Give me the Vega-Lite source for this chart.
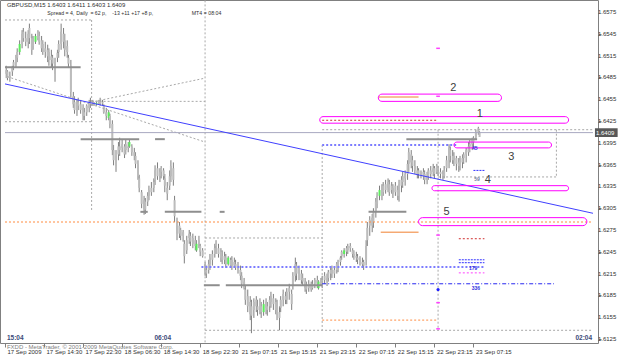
{
"$schema":"https://vega.github.io/schema/vega-lite/v6.json",
"width":598,"height":343,
"autosize":{"type":"none"},
"padding":{"left":0,"top":0,"right":27,"bottom":18},
"background":"white",
"config":{"font":"Liberation Sans","view":{"stroke":"#808080","strokeWidth":1}},
"datasets":{
"bars":[
{"i":1,"o":1.6490,"h":1.6501,"l":1.6484,"c":1.6495},{"i":2,"o":1.6493,"h":1.6495,"l":1.6481,"c":1.6484},{"i":4,"o":1.6484,"h":1.6493,"l":1.6479,"c":1.6487},{"i":6,"o":1.6493,"h":1.6501,"l":1.6487,"c":1.6498},{"i":7,"o":1.6501,"h":1.6509,"l":1.6495,"c":1.6506},{"i":9,"o":1.6504,"h":1.6516,"l":1.6498,"c":1.6512},{"i":10,"o":1.6512,"h":1.6525,"l":1.6506,"c":1.6520},{"i":12,"o":1.6520,"h":1.6536,"l":1.6516,"c":1.6531,"s":1},{"i":14,"o":1.6531,"h":1.6550,"l":1.6525,"c":1.6545},{"i":15,"o":1.6548,"h":1.6553,"l":1.6534,"c":1.6539},{"i":17,"o":1.6539,"h":1.6548,"l":1.6528,"c":1.6534},{"i":19,"o":1.6534,"h":1.6550,"l":1.6525,"c":1.6545},{"i":20,"o":1.6539,"h":1.6559,"l":1.6531,"c":1.6553},{"i":22,"o":1.6539,"h":1.6545,"l":1.6516,"c":1.6523},{"i":23,"o":1.6528,"h":1.6542,"l":1.6523,"c":1.6536},{"i":25,"o":1.6534,"h":1.6545,"l":1.6531,"c":1.6542,"s":1},{"i":27,"o":1.6539,"h":1.6550,"l":1.6536,"c":1.6548},{"i":28,"o":1.6542,"h":1.6548,"l":1.6530,"c":1.6534},{"i":30,"o":1.6536,"h":1.6542,"l":1.6520,"c":1.6525},{"i":31,"o":1.6531,"h":1.6536,"l":1.6516,"c":1.6520},{"i":33,"o":1.6525,"h":1.6534,"l":1.6512,"c":1.6520},{"i":35,"o":1.6523,"h":1.6530,"l":1.6506,"c":1.6514},{"i":36,"o":1.6520,"h":1.6525,"l":1.6501,"c":1.6509},{"i":38,"o":1.6509,"h":1.6523,"l":1.6498,"c":1.6514},{"i":39,"o":1.6512,"h":1.6516,"l":1.6495,"c":1.6504},{"i":41,"o":1.6506,"h":1.6512,"l":1.6479,"c":1.6490},{"i":43,"o":1.6512,"h":1.6523,"l":1.6506,"c":1.6519},{"i":44,"o":1.6520,"h":1.6536,"l":1.6512,"c":1.6531},{"i":46,"o":1.6531,"h":1.6559,"l":1.6523,"c":1.6548},{"i":48,"o":1.6545,"h":1.6553,"l":1.6525,"c":1.6534},{"i":49,"o":1.6536,"h":1.6545,"l":1.6514,"c":1.6523},{"i":51,"o":1.6528,"h":1.6536,"l":1.6512,"c":1.6520},{"i":52,"o":1.6512,"h":1.6516,"l":1.6498,"c":1.6504},{"i":54,"o":1.6501,"h":1.6509,"l":1.6457,"c":1.6465},{"i":56,"o":1.6459,"h":1.6465,"l":1.6443,"c":1.6448},{"i":57,"o":1.6451,"h":1.6459,"l":1.6435,"c":1.6440},{"i":59,"o":1.6437,"h":1.6454,"l":1.6432,"c":1.6448},{"i":60,"o":1.6451,"h":1.6457,"l":1.6440,"c":1.6446},{"i":62,"o":1.6448,"h":1.6454,"l":1.6435,"c":1.6440},{"i":64,"o":1.6443,"h":1.6448,"l":1.6426,"c":1.6432},{"i":65,"o":1.6432,"h":1.6443,"l":1.6426,"c":1.6437},{"i":67,"o":1.6437,"h":1.6448,"l":1.6432,"c":1.6446},{"i":69,"o":1.6443,"h":1.6454,"l":1.6437,"c":1.6451},{"i":70,"o":1.6451,"h":1.6457,"l":1.6443,"c":1.6448},{"i":72,"o":1.6451,"h":1.6454,"l":1.6446,"c":1.6448},{"i":73,"o":1.6448,"h":1.6451,"l":1.6446,"c":1.6450},{"i":75,"o":1.6448,"h":1.6451,"l":1.6446,"c":1.6450,"s":1},{"i":77,"o":1.6450,"h":1.6454,"l":1.6448,"c":1.6452},{"i":78,"o":1.6452,"h":1.6457,"l":1.6446,"c":1.6449},{"i":80,"o":1.6449,"h":1.6454,"l":1.6446,"c":1.6451},{"i":81,"o":1.6446,"h":1.6448,"l":1.6435,"c":1.6437},{"i":83,"o":1.6437,"h":1.6443,"l":1.6426,"c":1.6432},{"i":85,"o":1.6429,"h":1.6440,"l":1.6426,"c":1.6437,"s":1},{"i":86,"o":1.6432,"h":1.6435,"l":1.6415,"c":1.6421},{"i":88,"o":1.6421,"h":1.6426,"l":1.6378,"c":1.6385},{"i":89,"o":1.6385,"h":1.6392,"l":1.6364,"c":1.6371},{"i":91,"o":1.6363,"h":1.6385,"l":1.6355,"c":1.6377},{"i":93,"o":1.6379,"h":1.6396,"l":1.6371,"c":1.6390},{"i":94,"o":1.6390,"h":1.6402,"l":1.6377,"c":1.6385},{"i":96,"o":1.6388,"h":1.6399,"l":1.6382,"c":1.6393},{"i":98,"o":1.6390,"h":1.6393,"l":1.6374,"c":1.6379},{"i":99,"o":1.6385,"h":1.6399,"l":1.6379,"c":1.6393},{"i":101,"o":1.6388,"h":1.6396,"l":1.6382,"c":1.6390},{"i":102,"o":1.6390,"h":1.6399,"l":1.6388,"c":1.6396,"s":1},{"i":104,"o":1.6390,"h":1.6393,"l":1.6377,"c":1.6382},{"i":106,"o":1.6382,"h":1.6388,"l":1.6371,"c":1.6377},{"i":107,"o":1.6377,"h":1.6382,"l":1.6360,"c":1.6366},{"i":109,"o":1.6366,"h":1.6371,"l":1.6344,"c":1.6349},{"i":110,"o":1.6346,"h":1.6351,"l":1.6327,"c":1.6333},{"i":112,"o":1.6327,"h":1.6330,"l":1.6305,"c":1.6311},{"i":114,"o":1.6303,"h":1.6322,"l":1.6296,"c":1.6316},{"i":115,"o":1.6314,"h":1.6319,"l":1.6297,"c":1.6303},{"i":117,"o":1.6314,"h":1.6327,"l":1.6308,"c":1.6322},{"i":118,"o":1.6322,"h":1.6336,"l":1.6316,"c":1.6330},{"i":120,"o":1.6333,"h":1.6341,"l":1.6322,"c":1.6327},{"i":122,"o":1.6333,"h":1.6346,"l":1.6327,"c":1.6341},{"i":123,"o":1.6344,"h":1.6364,"l":1.6337,"c":1.6357},{"i":125,"o":1.6360,"h":1.6368,"l":1.6344,"c":1.6349},{"i":127,"o":1.6349,"h":1.6360,"l":1.6341,"c":1.6355},{"i":128,"o":1.6355,"h":1.6363,"l":1.6346,"c":1.6360},{"i":130,"o":1.6357,"h":1.6360,"l":1.6344,"c":1.6349},{"i":131,"o":1.6346,"h":1.6352,"l":1.6327,"c":1.6336},{"i":133,"o":1.6333,"h":1.6341,"l":1.6316,"c":1.6325},{"i":135,"o":1.6336,"h":1.6357,"l":1.6330,"c":1.6349},{"i":136,"o":1.6349,"h":1.6371,"l":1.6341,"c":1.6363},{"i":138,"o":1.6360,"h":1.6368,"l":1.6336,"c":1.6344},{"i":139,"o":1.6316,"h":1.6322,"l":1.6286,"c":1.6294},{"i":141,"o":1.6286,"h":1.6292,"l":1.6261,"c":1.6270},{"i":143,"o":1.6270,"h":1.6286,"l":1.6264,"c":1.6281},{"i":144,"o":1.6275,"h":1.6278,"l":1.6261,"c":1.6267},{"i":146,"o":1.6267,"h":1.6275,"l":1.6259,"c":1.6272},{"i":147,"o":1.6256,"h":1.6261,"l":1.6229,"c":1.6239},{"i":149,"o":1.6247,"h":1.6267,"l":1.6242,"c":1.6261},{"i":151,"o":1.6264,"h":1.6275,"l":1.6256,"c":1.6270},{"i":152,"o":1.6267,"h":1.6272,"l":1.6253,"c":1.6259},{"i":154,"o":1.6256,"h":1.6270,"l":1.6250,"c":1.6264},{"i":156,"o":1.6261,"h":1.6267,"l":1.6247,"c":1.6253},{"i":157,"o":1.6247,"h":1.6261,"l":1.6245,"c":1.6256,"s":1},{"i":159,"o":1.6256,"h":1.6267,"l":1.6250,"c":1.6261},{"i":160,"o":1.6253,"h":1.6256,"l":1.6239,"c":1.6245},{"i":162,"o":1.6247,"h":1.6250,"l":1.6237,"c":1.6239},{"i":164,"o":1.6228,"h":1.6231,"l":1.6212,"c":1.6217},{"i":165,"o":1.6215,"h":1.6226,"l":1.6209,"c":1.6220},{"i":167,"o":1.6220,"h":1.6234,"l":1.6215,"c":1.6228},{"i":168,"o":1.6228,"h":1.6242,"l":1.6220,"c":1.6237},{"i":170,"o":1.6234,"h":1.6247,"l":1.6226,"c":1.6242},{"i":172,"o":1.6242,"h":1.6256,"l":1.6237,"c":1.6250},{"i":173,"o":1.6253,"h":1.6261,"l":1.6242,"c":1.6256},{"i":175,"o":1.6250,"h":1.6256,"l":1.6237,"c":1.6242},{"i":177,"o":1.6245,"h":1.6250,"l":1.6231,"c":1.6237},{"i":178,"o":1.6239,"h":1.6247,"l":1.6228,"c":1.6234},{"i":180,"o":1.6234,"h":1.6245,"l":1.6228,"c":1.6239},{"i":181,"o":1.6237,"h":1.6242,"l":1.6223,"c":1.6228},{"i":183,"o":1.6228,"h":1.6239,"l":1.6226,"c":1.6237,"s":1},{"i":185,"o":1.6234,"h":1.6237,"l":1.6223,"c":1.6226},{"i":186,"o":1.6226,"h":1.6239,"l":1.6220,"c":1.6234},{"i":188,"o":1.6231,"h":1.6237,"l":1.6223,"c":1.6226},{"i":189,"o":1.6228,"h":1.6234,"l":1.6220,"c":1.6223},{"i":191,"o":1.6226,"h":1.6231,"l":1.6215,"c":1.6220},{"i":193,"o":1.6220,"h":1.6226,"l":1.6206,"c":1.6212},{"i":194,"o":1.6212,"h":1.6217,"l":1.6195,"c":1.6201},{"i":196,"o":1.6204,"h":1.6209,"l":1.6193,"c":1.6195},{"i":197,"o":1.6193,"h":1.6199,"l":1.6172,"c":1.6179},{"i":199,"o":1.6184,"h":1.6193,"l":1.6162,"c":1.6170},{"i":201,"o":1.6176,"h":1.6184,"l":1.6151,"c":1.6159},{"i":202,"o":1.6157,"h":1.6179,"l":1.6133,"c":1.6170},{"i":204,"o":1.6165,"h":1.6181,"l":1.6154,"c":1.6176},{"i":206,"o":1.6179,"h":1.6184,"l":1.6162,"c":1.6170},{"i":207,"o":1.6170,"h":1.6179,"l":1.6157,"c":1.6165},{"i":209,"o":1.6165,"h":1.6181,"l":1.6159,"c":1.6176},{"i":210,"o":1.6170,"h":1.6176,"l":1.6154,"c":1.6162},{"i":212,"o":1.6162,"h":1.6179,"l":1.6157,"c":1.6173,"s":1},{"i":214,"o":1.6176,"h":1.6181,"l":1.6159,"c":1.6168},{"i":215,"o":1.6165,"h":1.6176,"l":1.6157,"c":1.6170},{"i":217,"o":1.6170,"h":1.6184,"l":1.6162,"c":1.6179},{"i":218,"o":1.6176,"h":1.6190,"l":1.6168,"c":1.6184},{"i":220,"o":1.6181,"h":1.6187,"l":1.6165,"c":1.6173},{"i":222,"o":1.6176,"h":1.6181,"l":1.6159,"c":1.6165},{"i":223,"o":1.6170,"h":1.6179,"l":1.6151,"c":1.6159},{"i":225,"o":1.6162,"h":1.6170,"l":1.6137,"c":1.6154},{"i":226,"o":1.6168,"h":1.6184,"l":1.6162,"c":1.6179},{"i":228,"o":1.6179,"h":1.6193,"l":1.6170,"c":1.6187},{"i":230,"o":1.6184,"h":1.6190,"l":1.6173,"c":1.6179},{"i":231,"o":1.6179,"h":1.6195,"l":1.6173,"c":1.6190},{"i":233,"o":1.6190,"h":1.6201,"l":1.6179,"c":1.6195},{"i":235,"o":1.6187,"h":1.6193,"l":1.6165,"c":1.6173},{"i":236,"o":1.6198,"h":1.6217,"l":1.6193,"c":1.6212},{"i":238,"o":1.6212,"h":1.6237,"l":1.6204,"c":1.6228},{"i":239,"o":1.6226,"h":1.6231,"l":1.6206,"c":1.6215},{"i":241,"o":1.6215,"h":1.6226,"l":1.6206,"c":1.6220},{"i":243,"o":1.6215,"h":1.6220,"l":1.6201,"c":1.6206},{"i":244,"o":1.6209,"h":1.6215,"l":1.6198,"c":1.6204},{"i":246,"o":1.6204,"h":1.6209,"l":1.6190,"c":1.6195},{"i":247,"o":1.6193,"h":1.6204,"l":1.6187,"c":1.6198},{"i":249,"o":1.6195,"h":1.6206,"l":1.6190,"c":1.6201},{"i":251,"o":1.6201,"h":1.6204,"l":1.6190,"c":1.6193},{"i":252,"o":1.6195,"h":1.6206,"l":1.6193,"c":1.6201},{"i":254,"o":1.6201,"h":1.6209,"l":1.6195,"c":1.6206},{"i":256,"o":1.6206,"h":1.6212,"l":1.6195,"c":1.6201},{"i":257,"o":1.6195,"h":1.6206,"l":1.6193,"c":1.6204,"s":1},{"i":259,"o":1.6201,"h":1.6209,"l":1.6198,"c":1.6206},{"i":260,"o":1.6206,"h":1.6212,"l":1.6195,"c":1.6201},{"i":262,"o":1.6206,"h":1.6217,"l":1.6201,"c":1.6212},{"i":264,"o":1.6209,"h":1.6215,"l":1.6198,"c":1.6204},{"i":265,"o":1.6209,"h":1.6220,"l":1.6204,"c":1.6217},{"i":267,"o":1.6215,"h":1.6223,"l":1.6206,"c":1.6220},{"i":268,"o":1.6220,"h":1.6226,"l":1.6209,"c":1.6215},{"i":270,"o":1.6215,"h":1.6223,"l":1.6209,"c":1.6220},{"i":272,"o":1.6220,"h":1.6231,"l":1.6215,"c":1.6228},{"i":273,"o":1.6226,"h":1.6234,"l":1.6217,"c":1.6231},{"i":275,"o":1.6231,"h":1.6239,"l":1.6226,"c":1.6237},{"i":276,"o":1.6239,"h":1.6247,"l":1.6234,"c":1.6245},{"i":278,"o":1.6242,"h":1.6250,"l":1.6237,"c":1.6247,"s":1},{"i":280,"o":1.6245,"h":1.6253,"l":1.6239,"c":1.6250},{"i":281,"o":1.6247,"h":1.6256,"l":1.6242,"c":1.6253},{"i":283,"o":1.6250,"h":1.6257,"l":1.6245,"c":1.6253},{"i":285,"o":1.6247,"h":1.6250,"l":1.6237,"c":1.6242},{"i":286,"o":1.6242,"h":1.6247,"l":1.6234,"c":1.6239},{"i":288,"o":1.6239,"h":1.6245,"l":1.6231,"c":1.6237},{"i":289,"o":1.6237,"h":1.6242,"l":1.6228,"c":1.6234},{"i":291,"o":1.6234,"h":1.6239,"l":1.6226,"c":1.6231},{"i":293,"o":1.6231,"h":1.6237,"l":1.6223,"c":1.6228},{"i":294,"o":1.6226,"h":1.6234,"l":1.6220,"c":1.6231},{"i":296,"o":1.6234,"h":1.6261,"l":1.6226,"c":1.6253},{"i":297,"o":1.6261,"h":1.6286,"l":1.6253,"c":1.6278},{"i":299,"o":1.6281,"h":1.6294,"l":1.6267,"c":1.6289},{"i":301,"o":1.6281,"h":1.6297,"l":1.6272,"c":1.6292},{"i":302,"o":1.6286,"h":1.6305,"l":1.6278,"c":1.6300},{"i":304,"o":1.6300,"h":1.6319,"l":1.6292,"c":1.6314},{"i":305,"o":1.6311,"h":1.6327,"l":1.6305,"c":1.6322},{"i":307,"o":1.6322,"h":1.6336,"l":1.6316,"c":1.6330,"s":1},{"i":309,"o":1.6330,"h":1.6338,"l":1.6316,"c":1.6322},{"i":310,"o":1.6327,"h":1.6341,"l":1.6322,"c":1.6336},{"i":312,"o":1.6338,"h":1.6344,"l":1.6325,"c":1.6330},{"i":314,"o":1.6333,"h":1.6346,"l":1.6327,"c":1.6341},{"i":315,"o":1.6338,"h":1.6344,"l":1.6322,"c":1.6327},{"i":317,"o":1.6330,"h":1.6341,"l":1.6325,"c":1.6336},{"i":318,"o":1.6333,"h":1.6338,"l":1.6319,"c":1.6325},{"i":320,"o":1.6327,"h":1.6341,"l":1.6322,"c":1.6336},{"i":322,"o":1.6330,"h":1.6336,"l":1.6316,"c":1.6322},{"i":323,"o":1.6322,"h":1.6344,"l":1.6314,"c":1.6338},{"i":325,"o":1.6336,"h":1.6349,"l":1.6327,"c":1.6344},{"i":326,"o":1.6341,"h":1.6355,"l":1.6333,"c":1.6349},{"i":328,"o":1.6346,"h":1.6357,"l":1.6336,"c":1.6352},{"i":330,"o":1.6352,"h":1.6371,"l":1.6344,"c":1.6366},{"i":331,"o":1.6366,"h":1.6388,"l":1.6355,"c":1.6382},{"i":333,"o":1.6379,"h":1.6385,"l":1.6360,"c":1.6368},{"i":334,"o":1.6371,"h":1.6377,"l":1.6355,"c":1.6363},{"i":336,"o":1.6363,"h":1.6371,"l":1.6352,"c":1.6357},{"i":338,"o":1.6357,"h":1.6363,"l":1.6346,"c":1.6352},{"i":339,"o":1.6352,"h":1.6360,"l":1.6346,"c":1.6357},{"i":341,"o":1.6355,"h":1.6357,"l":1.6346,"c":1.6349},{"i":343,"o":1.6349,"h":1.6360,"l":1.6344,"c":1.6355},{"i":344,"o":1.6352,"h":1.6357,"l":1.6338,"c":1.6344},{"i":346,"o":1.6344,"h":1.6355,"l":1.6338,"c":1.6349},{"i":347,"o":1.6349,"h":1.6360,"l":1.6344,"c":1.6357},{"i":349,"o":1.6357,"h":1.6363,"l":1.6346,"c":1.6352},{"i":351,"o":1.6355,"h":1.6366,"l":1.6349,"c":1.6360},{"i":352,"o":1.6360,"h":1.6363,"l":1.6346,"c":1.6352},{"i":354,"o":1.6355,"h":1.6366,"l":1.6352,"c":1.6363},{"i":355,"o":1.6360,"h":1.6363,"l":1.6349,"c":1.6355},{"i":357,"o":1.6355,"h":1.6360,"l":1.6346,"c":1.6352},{"i":359,"o":1.6352,"h":1.6357,"l":1.6344,"c":1.6349},{"i":360,"o":1.6349,"h":1.6363,"l":1.6346,"c":1.6357},{"i":362,"o":1.6360,"h":1.6377,"l":1.6355,"c":1.6371},{"i":364,"o":1.6371,"h":1.6393,"l":1.6360,"c":1.6388},{"i":365,"o":1.6385,"h":1.6390,"l":1.6368,"c":1.6377},{"i":367,"o":1.6377,"h":1.6385,"l":1.6366,"c":1.6371},{"i":368,"o":1.6371,"h":1.6382,"l":1.6363,"c":1.6377},{"i":370,"o":1.6374,"h":1.6377,"l":1.6357,"c":1.6366},{"i":372,"o":1.6363,"h":1.6374,"l":1.6355,"c":1.6368},{"i":373,"o":1.6366,"h":1.6377,"l":1.6357,"c":1.6371},{"i":375,"o":1.6368,"h":1.6379,"l":1.6360,"c":1.6374},{"i":376,"o":1.6374,"h":1.6382,"l":1.6366,"c":1.6379},{"i":378,"o":1.6379,"h":1.6388,"l":1.6368,"c":1.6385},{"i":380,"o":1.6382,"h":1.6396,"l":1.6377,"c":1.6390},{"i":381,"o":1.6390,"h":1.6399,"l":1.6382,"c":1.6393},{"i":383,"o":1.6393,"h":1.6402,"l":1.6385,"c":1.6399},{"i":384,"o":1.6396,"h":1.6404,"l":1.6388,"c":1.6402},{"i":386,"o":1.6402,"h":1.6413,"l":1.6399,"c":1.6410},{"i":388,"o":1.6410,"h":1.6417,"l":1.6406,"c":1.6415},{"i":389,"o":1.6403,"h":1.6411,"l":1.6403,"c":1.6409}
],
"segs":[
{"x1":0,"x2":71,"y1":1.6564,"y2":1.6564,"k":"guide"},
{"x1":0,"x2":71,"y1":1.6424,"y2":1.6424,"k":"guide"},
{"x1":71,"x2":164,"y1":1.6452,"y2":1.6452,"k":"guide"},
{"x1":164,"x2":260,"y1":1.6264,"y2":1.6264,"k":"guide"},
{"x1":164,"x2":482,"y1":1.6137,"y2":1.6137,"k":"guide"},
{"x1":260,"x2":482,"y1":1.6413,"y2":1.6413,"k":"guide"},
{"x1":355,"x2":452,"y1":1.6348,"y2":1.6348,"k":"guide"},
{"x1":452,"x2":452,"y1":1.6413,"y2":1.6348,"k":"guide"},
{"x1":71,"x2":71,"y1":1.6564,"y2":1.6300,"k":"guide"},
{"x1":164,"x2":164,"y1":1.6591,"y2":1.6120,"k":"guide"},
{"x1":260,"x2":260,"y1":1.6392,"y2":1.6137,"k":"guide"},
{"x1":355,"x2":355,"y1":1.6413,"y2":1.6137,"k":"guide"},
{"x1":2,"x2":164,"y1":1.6486,"y2":1.6396,"k":"guide"},
{"x1":71,"x2":164,"y1":1.6451,"y2":1.6484,"k":"guide"},
{"x1":0,"x2":482,"y1":1.6409,"y2":1.6409,"k":"bid"},
{"x1":0,"x2":482,"y1":1.6476,"y2":1.6298,"k":"trend"},
{"x1":260,"x2":450,"y1":1.6201,"y2":1.6201,"k":"bluedash"},
{"x1":372,"x2":393,"y1":1.6234,"y2":1.6234,"k":"bluesmall"},
{"x1":372,"x2":393,"y1":1.6230,"y2":1.6230,"k":"bluesmall"},
{"x1":384,"x2":393,"y1":1.6357,"y2":1.6357,"k":"bluesmall"},
{"x1":0,"x2":482,"y1":1.6286,"y2":1.6286,"k":"orangedot"},
{"x1":260,"x2":355,"y1":1.6151,"y2":1.6151,"k":"orangedot"},
{"x1":308,"x2":339,"y1":1.6272,"y2":1.6272,"k":"orange"},
{"x1":306,"x2":339,"y1":1.6458,"y2":1.6458,"k":"orange"},
{"x1":260,"x2":355,"y1":1.6426,"y2":1.6426,"k":"reddot"},
{"x1":372,"x2":393,"y1":1.6263,"y2":1.6263,"k":"reddot"},
{"x1":372,"x2":393,"y1":1.6216,"y2":1.6216,"k":"pinkdot"},
{"x1":353.5,"x2":356.5,"y1":1.6525,"y2":1.6525,"k":"pink"},
{"x1":353.5,"x2":356.5,"y1":1.6459,"y2":1.6459,"k":"pink"},
{"x1":353.5,"x2":356.5,"y1":1.6268,"y2":1.6268,"k":"pink"},
{"x1":353.5,"x2":356.5,"y1":1.6175,"y2":1.6175,"k":"pink"},
{"x1":353.5,"x2":356.5,"y1":1.6139,"y2":1.6139,"k":"pink"},
{"x1":0,"x2":62,"y1":1.6499,"y2":1.6499,"k":"level"},
{"x1":62,"x2":110,"y1":1.6400,"y2":1.6400,"k":"level"},
{"x1":123,"x2":131,"y1":1.6400,"y2":1.6400,"k":"level"},
{"x1":111,"x2":117,"y1":1.6300,"y2":1.6300,"k":"level"},
{"x1":131,"x2":161,"y1":1.6300,"y2":1.6300,"k":"level"},
{"x1":176,"x2":180,"y1":1.6300,"y2":1.6300,"k":"level"},
{"x1":163,"x2":176,"y1":1.6199,"y2":1.6199,"k":"level"},
{"x1":181,"x2":260,"y1":1.6199,"y2":1.6199,"k":"level"},
{"x1":298,"x2":329,"y1":1.6300,"y2":1.6300,"k":"level"},
{"x1":329,"x2":387,"y1":1.6400,"y2":1.6400,"k":"level"},
{"x1":260,"x2":371,"y1":1.6392,"y2":1.6392,"k":"bluedot"},
{"x1":161,"x2":393,"y1":1.6224,"y2":1.6224,"k":"bluedot"}
],
"boxes":[
{"x1":258,"x2":462,"y1":1.6431,"y2":1.6422},
{"x1":306,"x2":407,"y1":1.6462,"y2":1.6452},
{"x1":368,"x2":448,"y1":1.6396,"y2":1.6388},
{"x1":350,"x2":462,"y1":1.6336,"y2":1.6329},
{"x1":339,"x2":477,"y1":1.6292,"y2":1.6281}
],
"yt":[{"v":1.6125},{"v":1.6155},{"v":1.6185},{"v":1.6215},{"v":1.6245},{"v":1.6275},{"v":1.6305},{"v":1.6335},{"v":1.6365},{"v":1.6395},{"v":1.6425},{"v":1.6455},{"v":1.6485},{"v":1.6515},{"v":1.6545},{"v":1.6575}],
"notes":[
{"x":1.6,"y":1.6585,"t":"GBPUSD,M15  1.6403 1.6411 1.6403 1.6409","k":"h"},
{"x":34.7,"y":1.6574,"t":"Spread = 4,","k":"h2"},
{"x":58.5,"y":1.6574,"t":"Daily","k":"h2"},
{"x":70,"y":1.6574,"t":"= 62 p,","k":"h2"},
{"x":88,"y":1.6574,"t":"-13 +11 +17 +8 p,","k":"h2"},
{"x":153.1,"y":1.6574,"t":"MT4","k":"h2"},
{"x":163,"y":1.6574,"t":"= 08:04","k":"h2"},
{"x":389.3,"y":1.6435,"t":"1","k":"n"},
{"x":367.5,"y":1.6470,"t":"2","k":"n"},
{"x":415,"y":1.6375,"t":"3","k":"n"},
{"x":395.7,"y":1.6344,"t":"4","k":"n"},
{"x":361.9,"y":1.6300,"t":"5","k":"n"},
{"x":383.7,"y":1.6223,"t":"179","k":"b"},
{"x":386,"y":1.6195,"t":"336","k":"b"},
{"x":385,"y":1.6388,"t":"45","k":"b"},
{"x":387,"y":1.6345,"t":"59","k":"g"},
{"x":1.6,"y":1.6126,"t":"15:04","k":"t"},
{"x":122.5,"y":1.6126,"t":"06:04","k":"t"},
{"x":481.2,"y":1.6126,"t":"02:04","k":"tr"},
{"x":1.6,"y":1.6114,"t":"FXDD - MetaTrader, © 2001-2009 MetaQuotes Software Corp.","k":"c"}
],
"price":[{"x1":483.6,"x2":502.2,"y1":1.6415,"y2":1.6403,"p":1.6409,"t":"1.6409"}],
"dot":[{"x":355,"y":1.6193}]
},
"layer":[
{"data":{"name":"bars"},"mark":{"type":"rule","color":"#7e7e7e","strokeWidth":1},
 "encoding":{
  "x":{"field":"i","type":"quantitative","scale":{"domain":[0,482],"nice":false,"zero":false},
   "axis":{"title":null,"orient":"bottom","values":[0,32,64,96,128,160,192,224,256,288,320,352,384],
    "labelExpr":"['17 Sep 2009','17 Sep 14:30','17 Sep 22:30','18 Sep 06:30','18 Sep 14:30','18 Sep 22:30','21 Sep 07:15','21 Sep 15:15','21 Sep 23:15','22 Sep 07:15','22 Sep 15:15','22 Sep 23:15','23 Sep 07:15'][round(datum.value/32)]",
    "domain":false,"grid":false,"tickSize":4,"tickColor":"#808080","labelAlign":"left","labelOffset":2,"labelPadding":1,"labelFontSize":6,"labelColor":"#303030","labelOverlap":false,"labelFlush":false}},
  "y":{"field":"l","type":"quantitative","scale":{"domain":[1.61195,1.65915],"nice":false,"zero":false},
   "axis":{"title":null,"orient":"right","values":[1.6125,1.6155,1.6185,1.6215,1.6245,1.6275,1.6305,1.6335,1.6365,1.6395,1.6425,1.6455,1.6485,1.6515,1.6545,1.6575],
    "labels":false,"domain":false,"grid":false,"tickSize":3,"tickColor":"#808080"}},
  "y2":{"field":"h"}}},
{"data":{"name":"bars"},"mark":{"type":"bar","width":2},
 "encoding":{"x":{"field":"i","type":"quantitative"},"y":{"field":"o","type":"quantitative"},"y2":{"field":"c"},
  "color":{"condition":{"test":"datum.s == 1","value":"#5aee5a"},"value":"#bcbcbc"}}},
{"data":{"name":"segs"},"transform":[{"filter":"datum.k == 'guide'"}],"mark":{"type":"rule","strokeWidth":1,"color":"#a8a8a8","strokeDash":[2,2]},
 "encoding":{"x":{"field":"x1","type":"quantitative"},"x2":{"field":"x2"},"y":{"field":"y1","type":"quantitative"},"y2":{"field":"y2"}}},
{"data":{"name":"segs"},"transform":[{"filter":"datum.k == 'level'"}],"mark":{"type":"rule","strokeWidth":2,"color":"#8e8e8e"},
 "encoding":{"x":{"field":"x1","type":"quantitative"},"x2":{"field":"x2"},"y":{"field":"y1","type":"quantitative"},"y2":{"field":"y2"}}},
{"data":{"name":"segs"},"transform":[{"filter":"datum.k == 'bid'"}],"mark":{"type":"rule","strokeWidth":1,"color":"#a8a8c0"},
 "encoding":{"x":{"field":"x1","type":"quantitative"},"x2":{"field":"x2"},"y":{"field":"y1","type":"quantitative"},"y2":{"field":"y2"}}},
{"data":{"name":"segs"},"transform":[{"filter":"datum.k == 'trend'"}],"mark":{"type":"rule","strokeWidth":1,"color":"#4040ff"},
 "encoding":{"x":{"field":"x1","type":"quantitative"},"x2":{"field":"x2"},"y":{"field":"y1","type":"quantitative"},"y2":{"field":"y2"}}},
{"data":{"name":"segs"},"transform":[{"filter":"datum.k == 'bluedot'"}],"mark":{"type":"rule","strokeWidth":2,"color":"#7c7cff","strokeDash":[2,2]},
 "encoding":{"x":{"field":"x1","type":"quantitative"},"x2":{"field":"x2"},"y":{"field":"y1","type":"quantitative"},"y2":{"field":"y2"}}},
{"data":{"name":"segs"},"transform":[{"filter":"datum.k == 'bluedash'"}],"mark":{"type":"rule","strokeWidth":1,"color":"#2828f0","strokeDash":[4,2,1,2]},
 "encoding":{"x":{"field":"x1","type":"quantitative"},"x2":{"field":"x2"},"y":{"field":"y1","type":"quantitative"},"y2":{"field":"y2"}}},
{"data":{"name":"segs"},"transform":[{"filter":"datum.k == 'bluesmall'"}],"mark":{"type":"rule","strokeWidth":1,"color":"#3030ff","strokeDash":[2,1]},
 "encoding":{"x":{"field":"x1","type":"quantitative"},"x2":{"field":"x2"},"y":{"field":"y1","type":"quantitative"},"y2":{"field":"y2"}}},
{"data":{"name":"segs"},"transform":[{"filter":"datum.k == 'orangedot'"}],"mark":{"type":"rule","strokeWidth":1,"color":"#ff8c40","strokeDash":[2,2]},
 "encoding":{"x":{"field":"x1","type":"quantitative"},"x2":{"field":"x2"},"y":{"field":"y1","type":"quantitative"},"y2":{"field":"y2"}}},
{"data":{"name":"segs"},"transform":[{"filter":"datum.k == 'orange'"}],"mark":{"type":"rule","strokeWidth":1,"color":"#f08030"},
 "encoding":{"x":{"field":"x1","type":"quantitative"},"x2":{"field":"x2"},"y":{"field":"y1","type":"quantitative"},"y2":{"field":"y2"}}},
{"data":{"name":"segs"},"transform":[{"filter":"datum.k == 'reddot'"}],"mark":{"type":"rule","strokeWidth":1,"color":"#d03030","strokeDash":[2,2]},
 "encoding":{"x":{"field":"x1","type":"quantitative"},"x2":{"field":"x2"},"y":{"field":"y1","type":"quantitative"},"y2":{"field":"y2"}}},
{"data":{"name":"segs"},"transform":[{"filter":"datum.k == 'pinkdot'"}],"mark":{"type":"rule","strokeWidth":1,"color":"#ff40ff","strokeDash":[2,2]},
 "encoding":{"x":{"field":"x1","type":"quantitative"},"x2":{"field":"x2"},"y":{"field":"y1","type":"quantitative"},"y2":{"field":"y2"}}},
{"data":{"name":"segs"},"transform":[{"filter":"datum.k == 'pink'"}],"mark":{"type":"rule","strokeWidth":1.5,"color":"#ff40ff"},
 "encoding":{"x":{"field":"x1","type":"quantitative"},"x2":{"field":"x2"},"y":{"field":"y1","type":"quantitative"},"y2":{"field":"y2"}}},
{"data":{"name":"boxes"},"mark":{"type":"rect","fill":"white","fillOpacity":0,"stroke":"#ff00ff","strokeWidth":1,"cornerRadius":4},
 "encoding":{"x":{"field":"x1","type":"quantitative"},"x2":{"field":"x2"},"y":{"field":"y1","type":"quantitative"},"y2":{"field":"y2"}}},
{"data":{"name":"dot"},"mark":{"type":"point","filled":true,"color":"#2020ff","size":10,"opacity":1},
 "encoding":{"x":{"field":"x","type":"quantitative"},"y":{"field":"y","type":"quantitative"}}},
{"data":{"name":"yt"},"mark":{"type":"text","align":"left","baseline":"middle","fontSize":6,"color":"#303030"},
 "encoding":{"x":{"datum":486},"y":{"field":"v","type":"quantitative"},"text":{"field":"v","type":"quantitative","format":".4f"}}},
{"data":{"name":"notes"},"transform":[{"filter":"datum.k == 'h'"}],"mark":{"type":"text","align":"left","baseline":"middle","fontSize":6,"color":"#303030"},
 "encoding":{"x":{"field":"x","type":"quantitative"},"y":{"field":"y","type":"quantitative"},"text":{"field":"t"}}},
{"data":{"name":"notes"},"transform":[{"filter":"datum.k == 'h2'"}],"mark":{"type":"text","align":"left","baseline":"middle","fontSize":5.2,"color":"#303030"},
 "encoding":{"x":{"field":"x","type":"quantitative"},"y":{"field":"y","type":"quantitative"},"text":{"field":"t"}}},
{"data":{"name":"notes"},"transform":[{"filter":"datum.k == 'n'"}],"mark":{"type":"text","align":"center","baseline":"middle","fontSize":11,"color":"#404040"},
 "encoding":{"x":{"field":"x","type":"quantitative"},"y":{"field":"y","type":"quantitative"},"text":{"field":"t"}}},
{"data":{"name":"notes"},"transform":[{"filter":"datum.k == 'b'"}],"mark":{"type":"text","align":"center","baseline":"middle","fontSize":5,"fontWeight":"bold","color":"#3030e0"},
 "encoding":{"x":{"field":"x","type":"quantitative"},"y":{"field":"y","type":"quantitative"},"text":{"field":"t"}}},
{"data":{"name":"notes"},"transform":[{"filter":"datum.k == 'g'"}],"mark":{"type":"text","align":"center","baseline":"middle","fontSize":5,"fontWeight":"bold","color":"#7080a0"},
 "encoding":{"x":{"field":"x","type":"quantitative"},"y":{"field":"y","type":"quantitative"},"text":{"field":"t"}}},
{"data":{"name":"notes"},"transform":[{"filter":"datum.k == 't'"}],"mark":{"type":"text","align":"left","baseline":"middle","fontSize":6.5,"fontWeight":"bold","color":"#3a4a78"},
 "encoding":{"x":{"field":"x","type":"quantitative"},"y":{"field":"y","type":"quantitative"},"text":{"field":"t"}}},
{"data":{"name":"notes"},"transform":[{"filter":"datum.k == 'tr'"}],"mark":{"type":"text","align":"right","baseline":"middle","fontSize":6.5,"fontWeight":"bold","color":"#3a4a78"},
 "encoding":{"x":{"field":"x","type":"quantitative"},"y":{"field":"y","type":"quantitative"},"text":{"field":"t"}}},
{"data":{"name":"notes"},"transform":[{"filter":"datum.k == 'c'"}],"mark":{"type":"text","align":"left","baseline":"middle","fontSize":6,"color":"#808080"},
 "encoding":{"x":{"field":"x","type":"quantitative"},"y":{"field":"y","type":"quantitative"},"text":{"field":"t"}}},
{"data":{"name":"price"},"mark":{"type":"rect","color":"#585858"},
 "encoding":{"x":{"field":"x1","type":"quantitative"},"x2":{"field":"x2"},"y":{"field":"y1","type":"quantitative"},"y2":{"field":"y2"}}},
{"data":{"name":"price"},"mark":{"type":"text","align":"left","baseline":"middle","fontSize":6,"color":"white","dx":1},
 "encoding":{"x":{"field":"x1","type":"quantitative"},"y":{"field":"p","type":"quantitative"},"text":{"field":"t"}}}
]
}
